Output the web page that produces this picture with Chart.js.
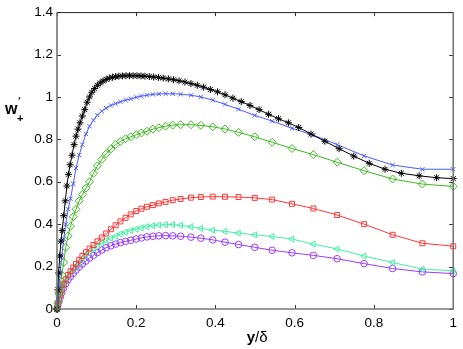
<!DOCTYPE html>
<html><head><meta charset="utf-8">
<script src="https://cdn.jsdelivr.net/npm/chart.js@4.4.0/dist/chart.umd.min.js"></script>
<style>html,body{margin:0;padding:0;background:#fff;}#wrap{width:463px;height:349px;position:relative;}</style>
</head><body><div id="wrap"><canvas id="c" width="463" height="349"></canvas></div>
<script>
// wall-normal grid (y/delta) shared by coloured series
const gridCoarse = [0, 0.002, 0.005, 0.008, 0.012, 0.017, 0.022, 0.028, 0.034, 0.041, 0.048, 0.056, 0.064, 0.073, 0.082, 0.092, 0.102, 0.113, 0.124, 0.136, 0.148, 0.160, 0.173, 0.186, 0.200, 0.213, 0.227, 0.242, 0.257, 0.274, 0.292, 0.312, 0.338, 0.363, 0.393, 0.424, 0.458, 0.499, 0.543, 0.593, 0.647, 0.707, 0.775, 0.847, 0.922, 1.0];
// finer grid used by the black series
const gridFine = [0, 0.002, 0.004, 0.007, 0.010, 0.013, 0.017, 0.021, 0.025, 0.029, 0.033, 0.038, 0.043, 0.048, 0.053, 0.058, 0.064, 0.070, 0.076, 0.082, 0.088, 0.095, 0.102, 0.109, 0.116, 0.124, 0.132, 0.140, 0.148, 0.156, 0.165, 0.174, 0.183, 0.192, 0.202, 0.212, 0.222, 0.233, 0.244, 0.256, 0.268, 0.281, 0.294, 0.308, 0.323, 0.338, 0.354, 0.370, 0.387, 0.405, 0.424, 0.444, 0.465, 0.487, 0.510, 0.534, 0.559, 0.584, 0.610, 0.641, 0.676, 0.712, 0.749, 0.788, 0.828, 0.869, 0.914, 0.958, 1.0];

const wBlack = [0, 0.09, 0.17, 0.25, 0.32, 0.37, 0.44, 0.51, 0.58, 0.635, 0.68, 0.725, 0.775, 0.815, 0.848, 0.878, 0.91, 0.94, 0.975, 1.0, 1.022, 1.04, 1.055, 1.066, 1.075, 1.083, 1.089, 1.093, 1.096, 1.098, 1.099, 1.100, 1.100, 1.100, 1.100, 1.099, 1.098, 1.096, 1.094, 1.092, 1.089, 1.085, 1.081, 1.076, 1.07, 1.063, 1.055, 1.046, 1.035, 1.024, 1.01, 0.994, 0.978, 0.96, 0.94, 0.918, 0.897, 0.878, 0.856, 0.825, 0.791, 0.756, 0.721, 0.687, 0.659, 0.640, 0.628, 0.619, 0.615];
const wBlue = [0, 0.045, 0.11, 0.17, 0.25, 0.33, 0.40, 0.47, 0.52, 0.59, 0.665, 0.726, 0.775, 0.825, 0.862, 0.890, 0.914, 0.933, 0.947, 0.960, 0.969, 0.977, 0.985, 0.991, 0.998, 1.004, 1.008, 1.012, 1.014, 1.015, 1.015, 1.013, 1.008, 1.0, 0.985, 0.965, 0.942, 0.913, 0.886, 0.852, 0.82, 0.775, 0.722, 0.679, 0.659, 0.659];
const wGreen = [0, 0.03, 0.07, 0.11, 0.16, 0.22, 0.29, 0.345, 0.39, 0.435, 0.47, 0.51, 0.54, 0.57, 0.60, 0.64, 0.675, 0.705, 0.732, 0.755, 0.775, 0.79, 0.803, 0.812, 0.822, 0.83, 0.838, 0.848, 0.855, 0.862, 0.867, 0.869, 0.869, 0.866, 0.859, 0.849, 0.833, 0.812, 0.786, 0.757, 0.728, 0.692, 0.652, 0.613, 0.589, 0.578];
const wRed = [0, 0.02, 0.045, 0.065, 0.09, 0.115, 0.14, 0.16, 0.178, 0.196, 0.213, 0.232, 0.25, 0.268, 0.285, 0.302, 0.319, 0.337, 0.356, 0.376, 0.395, 0.413, 0.43, 0.446, 0.462, 0.473, 0.482, 0.490, 0.498, 0.505, 0.513, 0.519, 0.525, 0.528, 0.530, 0.529, 0.528, 0.524, 0.516, 0.496, 0.474, 0.443, 0.40, 0.350, 0.310, 0.296];
const wCyan = [0, 0.018, 0.04, 0.06, 0.085, 0.11, 0.132, 0.152, 0.17, 0.187, 0.202, 0.218, 0.235, 0.252, 0.268, 0.283, 0.297, 0.31, 0.322, 0.334, 0.344, 0.353, 0.362, 0.370, 0.377, 0.383, 0.388, 0.393, 0.396, 0.398, 0.398, 0.395, 0.388, 0.380, 0.372, 0.366, 0.358, 0.350, 0.342, 0.330, 0.306, 0.283, 0.250, 0.219, 0.188, 0.180];
const wPurple = [0, 0.015, 0.035, 0.055, 0.078, 0.10, 0.12, 0.138, 0.153, 0.168, 0.183, 0.198, 0.212, 0.226, 0.240, 0.253, 0.266, 0.278, 0.289, 0.298, 0.306, 0.313, 0.319, 0.324, 0.330, 0.335, 0.340, 0.343, 0.345, 0.346, 0.345, 0.343, 0.339, 0.334, 0.326, 0.315, 0.304, 0.291, 0.277, 0.265, 0.253, 0.237, 0.214, 0.191, 0.175, 0.167];

const xTicks = [0, 0.2, 0.4, 0.6, 0.8, 1];
const yTicks = [0, 0.2, 0.4, 0.6, 0.8, 1, 1.2, 1.4];

function pts(grid, vals){ return grid.map((g,i)=>({x:g, y:vals[i]})); }

const FONT = '"Liberation Sans", Arial, sans-serif';

function ds(label, grid, vals, color, style, radius, rot){
  return {label, data: pts(grid, vals), showLine: true, borderColor: color, backgroundColor: 'rgba(0,0,0,0)',
    borderWidth: 1, pointStyle: style, pointRadius: radius, pointBorderColor: color, pointBackgroundColor: 'rgba(0,0,0,0)',
    pointBorderWidth: 1, pointRotation: rot||0, clip: false, tension: 0};
}

const boxPlugin = {
  id: 'box',
  afterDatasetsDraw(chart){
    const {ctx, chartArea:a, scales} = chart;
    ctx.save();
    // ticks
    ctx.strokeStyle = '#333'; ctx.lineWidth = 1;
    ctx.beginPath();
    xTicks.forEach(t=>{ const p = Math.round(scales.x.getPixelForValue(t))+0.5;
      ctx.moveTo(p, a.bottom); ctx.lineTo(p, a.bottom-4);
      ctx.moveTo(p, a.top); ctx.lineTo(p, a.top+4); });
    yTicks.forEach(t=>{ const p = Math.round(scales.y.getPixelForValue(t))+0.5;
      ctx.moveTo(a.left, p); ctx.lineTo(a.left+4, p);
      ctx.moveTo(a.right, p); ctx.lineTo(a.right-4, p); });
    ctx.stroke();
    // frame
    ctx.strokeStyle = '#222'; ctx.lineWidth = 1;
    ctx.beginPath(); ctx.moveTo(a.left, a.top+0.5); ctx.lineTo(a.right, a.top+0.5); ctx.stroke();
    ctx.strokeStyle = '#777'; ctx.lineWidth = 1.6;
    ctx.beginPath();
    ctx.moveTo(a.left, a.top); ctx.lineTo(a.left, a.bottom); ctx.lineTo(a.right, a.bottom); ctx.lineTo(a.right, a.top);
    ctx.stroke();
    // axis titles
    ctx.fillStyle = '#000';
    ctx.textBaseline = 'alphabetic';
    ctx.font = 'bold 15px ' + FONT;
    const yw = ctx.measureText('y').width;
    ctx.font = '15px ' + FONT;
    const sw = ctx.measureText('/δ').width;
    const cx = (a.left + a.right)/2 + 2;
    let x0 = cx - (yw+sw)/2;
    ctx.font = 'bold 15px ' + FONT; ctx.fillText('y', x0, 342);
    ctx.font = '15px ' + FONT; ctx.fillText('/δ', x0+yw, 342);
    ctx.font = 'bold 16px ' + FONT; ctx.fillText('w', 5, 114);
    ctx.font = '13px ' + FONT; ctx.fillText('′', 18, 106);
    ctx.font = 'bold 11px ' + FONT; ctx.fillText('+', 17, 122);
    ctx.restore();
  }
};

new Chart(document.getElementById('c'), {
  type: 'scatter',
  data: { datasets: [
    ds('black', gridFine, wBlack, '#000000', 'star', 3.5),
    ds('blue', gridCoarse, wBlue, '#4a5cff', 'crossRot', 3),
    ds('green', gridCoarse, wGreen, '#3db821', 'rectRot', 4),
    ds('red', gridCoarse, wRed, '#ff3838', 'rect', 3.5),
    ds('cyan', gridCoarse, wCyan, '#45f0a5', 'triangle', 3.5, -90),
    ds('purple', gridCoarse, wPurple, '#9a3cff', 'circle', 3.3)
  ]},
  options: {
    responsive: false, devicePixelRatio: 1, animation: false,
    layout: { padding: { top: 8, right: 4, left: 0, bottom: 0 } },
    plugins: { legend: { display: false }, tooltip: { enabled: false } },
    scales: {
      x: { type: 'linear', min: 0, max: 1,
        afterBuildTicks(s){ s.ticks = xTicks.map(v=>({value:v})); },
        ticks: { callback: v => String(Math.round(v*10)/10), font: { size: 13.5, family: FONT }, color: '#000', padding: 6, maxRotation: 0 },
        grid: { display: false, drawTicks: false }, border: { display: false },
        afterFit(s){ s.height = 40; } },
      y: { type: 'linear', min: 0, max: 1.4,
        afterBuildTicks(s){ s.ticks = yTicks.map(v=>({value:v})); },
        ticks: { callback: v => String(Math.round(v*10)/10), font: { size: 13.5, family: FONT }, color: '#000', padding: 4 },
        grid: { display: false, drawTicks: false }, border: { display: false },
        afterFit(s){ s.width = 57; } }
    }
  },
  plugins: [boxPlugin]
});
</script></body></html>
